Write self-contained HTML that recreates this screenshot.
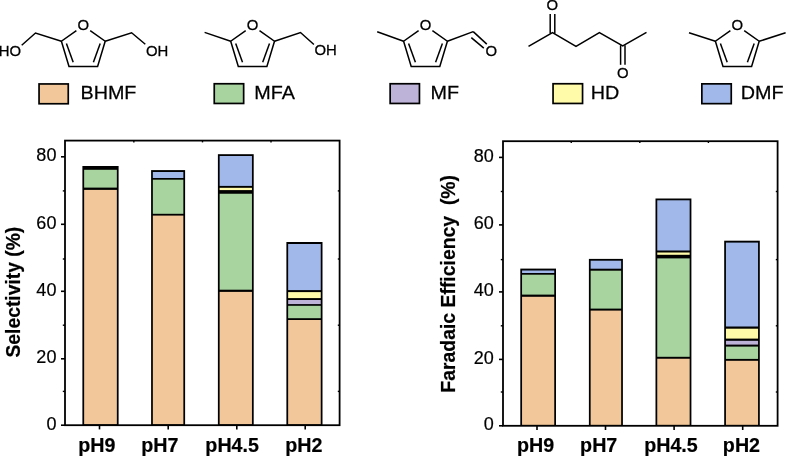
<!DOCTYPE html>
<html><head><meta charset="utf-8"><style>
html,body{margin:0;padding:0;background:#fff;}
body{width:788px;height:456px;overflow:hidden;}
svg{display:block;will-change:transform;font-family:"Liberation Sans",sans-serif;}
</style></head><body>
<svg width="788" height="456" viewBox="0 0 788 456">
<polyline points="76.40,30.60 61.40,41.25 69.00,66.50 97.60,66.50 105.20,41.25 90.20,30.60" fill="none" stroke="#000" stroke-width="1.5"/>
<line x1="66.40" y1="43.40" x2="73.20" y2="62.30" stroke="#000" stroke-width="1.5"/>
<line x1="100.20" y1="43.40" x2="93.40" y2="62.30" stroke="#000" stroke-width="1.5"/>
<text x="0" y="0" font-size="14.2" text-anchor="middle" font-weight="normal" stroke="#000" stroke-width="0.25" transform="translate(83.30,30.20) scale(1.05,1)">O</text>
<polyline points="61.40,41.25 35.50,33.00 21.70,45.30" fill="none" stroke="#000" stroke-width="1.5"/>
<polyline points="105.20,41.25 131.60,32.80 145.30,44.30" fill="none" stroke="#000" stroke-width="1.5"/>
<text x="0" y="0" font-size="14.2" text-anchor="end" font-weight="normal" stroke="#000" stroke-width="0.25" transform="translate(21.20,55.70) scale(1.05,1)">HO</text>
<text x="0" y="0" font-size="14.2" text-anchor="middle" font-weight="normal" stroke="#000" stroke-width="0.25" transform="translate(157.10,55.70) scale(1.05,1)">OH</text>
<polyline points="245.70,30.60 230.70,41.25 238.30,66.50 266.90,66.50 274.50,41.25 259.50,30.60" fill="none" stroke="#000" stroke-width="1.5"/>
<line x1="235.70" y1="43.40" x2="242.50" y2="62.30" stroke="#000" stroke-width="1.5"/>
<line x1="269.50" y1="43.40" x2="262.70" y2="62.30" stroke="#000" stroke-width="1.5"/>
<text x="0" y="0" font-size="14.2" text-anchor="middle" font-weight="normal" stroke="#000" stroke-width="0.25" transform="translate(252.60,30.20) scale(1.05,1)">O</text>
<line x1="230.70" y1="41.25" x2="204.60" y2="32.40" stroke="#000" stroke-width="1.5"/>
<polyline points="274.50,41.25 300.50,32.50 313.90,44.50" fill="none" stroke="#000" stroke-width="1.5"/>
<text x="0" y="0" font-size="14.2" text-anchor="middle" font-weight="normal" stroke="#000" stroke-width="0.25" transform="translate(325.60,55.40) scale(1.05,1)">OH</text>
<polyline points="418.60,30.60 403.60,41.25 411.20,66.50 439.80,66.50 447.40,41.25 432.40,30.60" fill="none" stroke="#000" stroke-width="1.5"/>
<line x1="408.60" y1="43.40" x2="415.40" y2="62.30" stroke="#000" stroke-width="1.5"/>
<line x1="442.40" y1="43.40" x2="435.60" y2="62.30" stroke="#000" stroke-width="1.5"/>
<text x="0" y="0" font-size="14.2" text-anchor="middle" font-weight="normal" stroke="#000" stroke-width="0.25" transform="translate(425.50,30.20) scale(1.05,1)">O</text>
<line x1="403.60" y1="41.25" x2="377.20" y2="31.80" stroke="#000" stroke-width="1.5"/>
<line x1="447.40" y1="41.25" x2="473.20" y2="31.60" stroke="#000" stroke-width="1.5"/>
<line x1="473.20" y1="31.60" x2="486.80" y2="44.10" stroke="#000" stroke-width="1.5"/>
<line x1="471.30" y1="37.60" x2="483.80" y2="48.10" stroke="#000" stroke-width="1.5"/>
<text x="0" y="0" font-size="14.2" text-anchor="middle" font-weight="normal" stroke="#000" stroke-width="0.25" transform="translate(491.40,56.00) scale(1.05,1)">O</text>
<polyline points="528.50,46.40 552.50,32.60 576.00,46.40 599.40,32.60 622.75,46.00 646.50,32.30" fill="none" stroke="#000" stroke-width="1.5"/>
<line x1="550.20" y1="13.90" x2="550.20" y2="33.40" stroke="#000" stroke-width="1.5"/>
<line x1="554.80" y1="13.90" x2="554.80" y2="33.40" stroke="#000" stroke-width="1.5"/>
<text x="0" y="0" font-size="14.2" text-anchor="middle" font-weight="normal" stroke="#000" stroke-width="0.25" transform="translate(552.20,10.20) scale(1.05,1)">O</text>
<line x1="620.60" y1="45.20" x2="620.60" y2="64.80" stroke="#000" stroke-width="1.5"/>
<line x1="625.00" y1="45.20" x2="625.00" y2="64.80" stroke="#000" stroke-width="1.5"/>
<text x="0" y="0" font-size="14.2" text-anchor="middle" font-weight="normal" stroke="#000" stroke-width="0.25" transform="translate(622.70,78.00) scale(1.05,1)">O</text>
<polyline points="730.40,30.60 715.40,41.25 723.00,66.50 751.60,66.50 759.20,41.25 744.20,30.60" fill="none" stroke="#000" stroke-width="1.5"/>
<line x1="720.40" y1="43.40" x2="727.20" y2="62.30" stroke="#000" stroke-width="1.5"/>
<line x1="754.20" y1="43.40" x2="747.40" y2="62.30" stroke="#000" stroke-width="1.5"/>
<text x="0" y="0" font-size="14.2" text-anchor="middle" font-weight="normal" stroke="#000" stroke-width="0.25" transform="translate(737.30,30.20) scale(1.05,1)">O</text>
<line x1="715.40" y1="41.25" x2="689.00" y2="32.80" stroke="#000" stroke-width="1.5"/>
<line x1="759.20" y1="41.25" x2="785.60" y2="32.80" stroke="#000" stroke-width="1.5"/>
<rect x="38.20" y="83.10" width="30.90" height="21.50" fill="#000"/>
<rect x="39.90" y="84.80" width="27.50" height="18.10" fill="#F2C89A"/>
<text x="0" y="0" font-size="19" text-anchor="middle" font-weight="normal" stroke="#000" stroke-width="0.25" transform="translate(108.45,99.40) scale(1.04,1)">BHMF</text>
<rect x="213.40" y="82.90" width="31.10" height="21.40" fill="#000"/>
<rect x="215.10" y="84.60" width="27.70" height="18.00" fill="#A8D4A0"/>
<text x="0" y="0" font-size="19" text-anchor="middle" font-weight="normal" stroke="#000" stroke-width="0.25" transform="translate(274.60,99.40) scale(1.04,1)">MFA</text>
<rect x="389.30" y="82.90" width="31.00" height="21.40" fill="#000"/>
<rect x="391.00" y="84.60" width="27.60" height="18.00" fill="#BDB2D8"/>
<text x="0" y="0" font-size="19" text-anchor="middle" font-weight="normal" stroke="#000" stroke-width="0.25" transform="translate(444.85,99.40) scale(1.04,1)">MF</text>
<rect x="552.20" y="82.90" width="31.20" height="21.40" fill="#000"/>
<rect x="553.90" y="84.60" width="27.80" height="18.00" fill="#FFFBA8"/>
<text x="0" y="0" font-size="19" text-anchor="middle" font-weight="normal" stroke="#000" stroke-width="0.25" transform="translate(605.10,99.40) scale(1.04,1)">HD</text>
<rect x="701.00" y="83.00" width="31.10" height="21.50" fill="#000"/>
<rect x="702.70" y="84.70" width="27.70" height="18.10" fill="#A0B8EA"/>
<text x="0" y="0" font-size="19" text-anchor="middle" font-weight="normal" stroke="#000" stroke-width="0.25" transform="translate(762.10,99.40) scale(1.04,1)">DMF</text>
<rect x="82.40" y="166.00" width="36.20" height="259.20" fill="#000"/>
<rect x="84.15" y="169.80" width="32.70" height="17.80" fill="#A8D4A0"/>
<rect x="84.15" y="189.90" width="32.70" height="234.40" fill="#F2C89A"/>
<rect x="151.10" y="170.10" width="34.00" height="255.10" fill="#000"/>
<rect x="152.85" y="172.00" width="30.50" height="6.00" fill="#A0B8EA"/>
<rect x="152.85" y="179.70" width="30.50" height="34.10" fill="#A8D4A0"/>
<rect x="152.85" y="215.60" width="30.50" height="208.70" fill="#F2C89A"/>
<rect x="217.90" y="154.20" width="35.80" height="271.00" fill="#000"/>
<rect x="219.65" y="156.00" width="32.30" height="29.90" fill="#A0B8EA"/>
<rect x="219.65" y="187.80" width="32.30" height="2.30" fill="#FFFBA8"/>
<rect x="219.65" y="193.75" width="32.30" height="95.95" fill="#A8D4A0"/>
<rect x="219.65" y="291.90" width="32.30" height="132.40" fill="#F2C89A"/>
<rect x="286.40" y="242.00" width="36.10" height="183.20" fill="#000"/>
<rect x="288.15" y="244.00" width="32.60" height="46.10" fill="#A0B8EA"/>
<rect x="288.15" y="292.10" width="32.60" height="6.00" fill="#FFFBA8"/>
<rect x="288.15" y="300.00" width="32.60" height="4.10" fill="#BDB2D8"/>
<rect x="288.15" y="305.80" width="32.60" height="12.40" fill="#A8D4A0"/>
<rect x="288.15" y="320.00" width="32.60" height="104.30" fill="#F2C89A"/>
<rect x="65.00" y="140.60" width="274.60" height="284.60" fill="none" stroke="#000" stroke-width="1.8"/>
<line x1="61.00" y1="425.20" x2="65.00" y2="425.20" stroke="#000" stroke-width="1.6"/>
<text x="0" y="0" font-size="18" text-anchor="end" font-weight="normal" stroke="#000" stroke-width="0.2" transform="translate(56.40,429.50) scale(1.0,1)">0</text>
<line x1="62.80" y1="391.40" x2="65.00" y2="391.40" stroke="#000" stroke-width="1.4"/>
<line x1="339.60" y1="391.40" x2="337.80" y2="391.40" stroke="#000" stroke-width="1.4"/>
<line x1="61.00" y1="358.80" x2="65.00" y2="358.80" stroke="#000" stroke-width="1.6"/>
<text x="0" y="0" font-size="18" text-anchor="end" font-weight="normal" stroke="#000" stroke-width="0.2" transform="translate(56.40,363.10) scale(1.0,1)">20</text>
<line x1="62.80" y1="325.20" x2="65.00" y2="325.20" stroke="#000" stroke-width="1.4"/>
<line x1="339.60" y1="325.20" x2="337.80" y2="325.20" stroke="#000" stroke-width="1.4"/>
<line x1="61.00" y1="291.30" x2="65.00" y2="291.30" stroke="#000" stroke-width="1.6"/>
<text x="0" y="0" font-size="18" text-anchor="end" font-weight="normal" stroke="#000" stroke-width="0.2" transform="translate(56.40,295.60) scale(1.0,1)">40</text>
<line x1="62.80" y1="259.00" x2="65.00" y2="259.00" stroke="#000" stroke-width="1.4"/>
<line x1="339.60" y1="259.00" x2="337.80" y2="259.00" stroke="#000" stroke-width="1.4"/>
<line x1="61.00" y1="224.30" x2="65.00" y2="224.30" stroke="#000" stroke-width="1.6"/>
<text x="0" y="0" font-size="18" text-anchor="end" font-weight="normal" stroke="#000" stroke-width="0.2" transform="translate(56.40,228.60) scale(1.0,1)">60</text>
<line x1="62.80" y1="190.90" x2="65.00" y2="190.90" stroke="#000" stroke-width="1.4"/>
<line x1="339.60" y1="190.90" x2="337.80" y2="190.90" stroke="#000" stroke-width="1.4"/>
<line x1="61.00" y1="156.80" x2="65.00" y2="156.80" stroke="#000" stroke-width="1.6"/>
<text x="0" y="0" font-size="18" text-anchor="end" font-weight="normal" stroke="#000" stroke-width="0.2" transform="translate(56.40,161.10) scale(1.0,1)">80</text>
<line x1="99.50" y1="425.20" x2="99.50" y2="429.40" stroke="#000" stroke-width="1.6"/>
<line x1="168.20" y1="425.20" x2="168.20" y2="429.40" stroke="#000" stroke-width="1.6"/>
<line x1="236.80" y1="425.20" x2="236.80" y2="429.40" stroke="#000" stroke-width="1.6"/>
<line x1="305.20" y1="425.20" x2="305.20" y2="429.40" stroke="#000" stroke-width="1.6"/>
<line x1="133.85" y1="140.60" x2="133.85" y2="142.40" stroke="#000" stroke-width="1.4"/>
<line x1="202.50" y1="140.60" x2="202.50" y2="142.40" stroke="#000" stroke-width="1.4"/>
<line x1="271.00" y1="140.60" x2="271.00" y2="142.40" stroke="#000" stroke-width="1.4"/>
<rect x="520.30" y="268.60" width="35.70" height="157.20" fill="#000"/>
<rect x="522.05" y="270.50" width="32.20" height="2.50" fill="#A0B8EA"/>
<rect x="522.05" y="274.70" width="32.20" height="19.90" fill="#A8D4A0"/>
<rect x="522.05" y="296.80" width="32.20" height="128.10" fill="#F2C89A"/>
<rect x="588.90" y="258.90" width="34.00" height="166.90" fill="#000"/>
<rect x="590.65" y="260.70" width="30.50" height="8.00" fill="#A0B8EA"/>
<rect x="590.65" y="270.70" width="30.50" height="37.90" fill="#A8D4A0"/>
<rect x="590.65" y="310.60" width="30.50" height="114.30" fill="#F2C89A"/>
<rect x="655.50" y="198.50" width="35.90" height="227.30" fill="#000"/>
<rect x="657.25" y="200.30" width="32.40" height="50.20" fill="#A0B8EA"/>
<rect x="657.25" y="252.50" width="32.40" height="2.30" fill="#FFFBA8"/>
<rect x="657.25" y="258.40" width="32.40" height="98.40" fill="#A8D4A0"/>
<rect x="657.25" y="358.75" width="32.40" height="66.15" fill="#F2C89A"/>
<rect x="724.20" y="240.70" width="35.60" height="185.10" fill="#000"/>
<rect x="725.95" y="242.60" width="32.10" height="83.90" fill="#A0B8EA"/>
<rect x="725.95" y="328.70" width="32.10" height="9.90" fill="#FFFBA8"/>
<rect x="725.95" y="340.80" width="32.10" height="3.80" fill="#BDB2D8"/>
<rect x="725.95" y="346.60" width="32.10" height="12.30" fill="#A8D4A0"/>
<rect x="725.95" y="360.80" width="32.10" height="64.10" fill="#F2C89A"/>
<rect x="503.00" y="141.20" width="274.60" height="284.60" fill="none" stroke="#000" stroke-width="1.8"/>
<line x1="499.00" y1="425.80" x2="503.00" y2="425.80" stroke="#000" stroke-width="1.6"/>
<text x="0" y="0" font-size="18" text-anchor="end" font-weight="normal" stroke="#000" stroke-width="0.2" transform="translate(493.80,430.10) scale(1.0,1)">0</text>
<line x1="500.80" y1="392.00" x2="503.00" y2="392.00" stroke="#000" stroke-width="1.4"/>
<line x1="777.60" y1="392.00" x2="775.80" y2="392.00" stroke="#000" stroke-width="1.4"/>
<line x1="499.00" y1="359.40" x2="503.00" y2="359.40" stroke="#000" stroke-width="1.6"/>
<text x="0" y="0" font-size="18" text-anchor="end" font-weight="normal" stroke="#000" stroke-width="0.2" transform="translate(493.80,363.70) scale(1.0,1)">20</text>
<line x1="500.80" y1="325.80" x2="503.00" y2="325.80" stroke="#000" stroke-width="1.4"/>
<line x1="777.60" y1="325.80" x2="775.80" y2="325.80" stroke="#000" stroke-width="1.4"/>
<line x1="499.00" y1="291.90" x2="503.00" y2="291.90" stroke="#000" stroke-width="1.6"/>
<text x="0" y="0" font-size="18" text-anchor="end" font-weight="normal" stroke="#000" stroke-width="0.2" transform="translate(493.80,296.20) scale(1.0,1)">40</text>
<line x1="500.80" y1="259.60" x2="503.00" y2="259.60" stroke="#000" stroke-width="1.4"/>
<line x1="777.60" y1="259.60" x2="775.80" y2="259.60" stroke="#000" stroke-width="1.4"/>
<line x1="499.00" y1="224.90" x2="503.00" y2="224.90" stroke="#000" stroke-width="1.6"/>
<text x="0" y="0" font-size="18" text-anchor="end" font-weight="normal" stroke="#000" stroke-width="0.2" transform="translate(493.80,229.20) scale(1.0,1)">60</text>
<line x1="500.80" y1="191.50" x2="503.00" y2="191.50" stroke="#000" stroke-width="1.4"/>
<line x1="777.60" y1="191.50" x2="775.80" y2="191.50" stroke="#000" stroke-width="1.4"/>
<line x1="499.00" y1="157.40" x2="503.00" y2="157.40" stroke="#000" stroke-width="1.6"/>
<text x="0" y="0" font-size="18" text-anchor="end" font-weight="normal" stroke="#000" stroke-width="0.2" transform="translate(493.80,161.70) scale(1.0,1)">80</text>
<line x1="537.00" y1="425.80" x2="537.00" y2="430.00" stroke="#000" stroke-width="1.6"/>
<line x1="605.50" y1="425.80" x2="605.50" y2="430.00" stroke="#000" stroke-width="1.6"/>
<line x1="674.10" y1="425.80" x2="674.10" y2="430.00" stroke="#000" stroke-width="1.6"/>
<line x1="742.70" y1="425.80" x2="742.70" y2="430.00" stroke="#000" stroke-width="1.6"/>
<line x1="571.25" y1="141.20" x2="571.25" y2="143.00" stroke="#000" stroke-width="1.4"/>
<line x1="639.80" y1="141.20" x2="639.80" y2="143.00" stroke="#000" stroke-width="1.4"/>
<line x1="708.40" y1="141.20" x2="708.40" y2="143.00" stroke="#000" stroke-width="1.4"/>
<text x="0" y="0" font-size="19.3" text-anchor="middle" font-weight="bold" stroke="#000" stroke-width="0.2" transform="translate(19.50,292.15) rotate(-90) scale(1.0,1)">Selectivity (%)</text>
<text x="0" y="0" font-size="19.4" text-anchor="middle" font-weight="bold" stroke="#000" stroke-width="0.2" transform="translate(454.90,283.80) rotate(-90) scale(1.0,1)">Faradaic Efficiency&#160;&#160;(%)</text>
<text x="0" y="0" font-size="19.3" text-anchor="middle" font-weight="bold" stroke="#000" stroke-width="0.2" transform="translate(96.85,452.00) scale(1.02,1)">pH9</text>
<text x="0" y="0" font-size="19.3" text-anchor="middle" font-weight="bold" stroke="#000" stroke-width="0.2" transform="translate(159.85,452.00) scale(1.02,1)">pH7</text>
<text x="0" y="0" font-size="19.3" text-anchor="middle" font-weight="bold" stroke="#000" stroke-width="0.2" transform="translate(232.15,452.00) scale(1.02,1)">pH4.5</text>
<text x="0" y="0" font-size="19.3" text-anchor="middle" font-weight="bold" stroke="#000" stroke-width="0.2" transform="translate(303.85,452.00) scale(1.02,1)">pH2</text>
<text x="0" y="0" font-size="19.3" text-anchor="middle" font-weight="bold" stroke="#000" stroke-width="0.2" transform="translate(535.55,452.00) scale(1.02,1)">pH9</text>
<text x="0" y="0" font-size="19.3" text-anchor="middle" font-weight="bold" stroke="#000" stroke-width="0.2" transform="translate(598.70,452.00) scale(1.02,1)">pH7</text>
<text x="0" y="0" font-size="19.3" text-anchor="middle" font-weight="bold" stroke="#000" stroke-width="0.2" transform="translate(670.95,452.00) scale(1.02,1)">pH4.5</text>
<text x="0" y="0" font-size="19.3" text-anchor="middle" font-weight="bold" stroke="#000" stroke-width="0.2" transform="translate(741.45,452.00) scale(1.02,1)">pH2</text>
</svg>
</body></html>
